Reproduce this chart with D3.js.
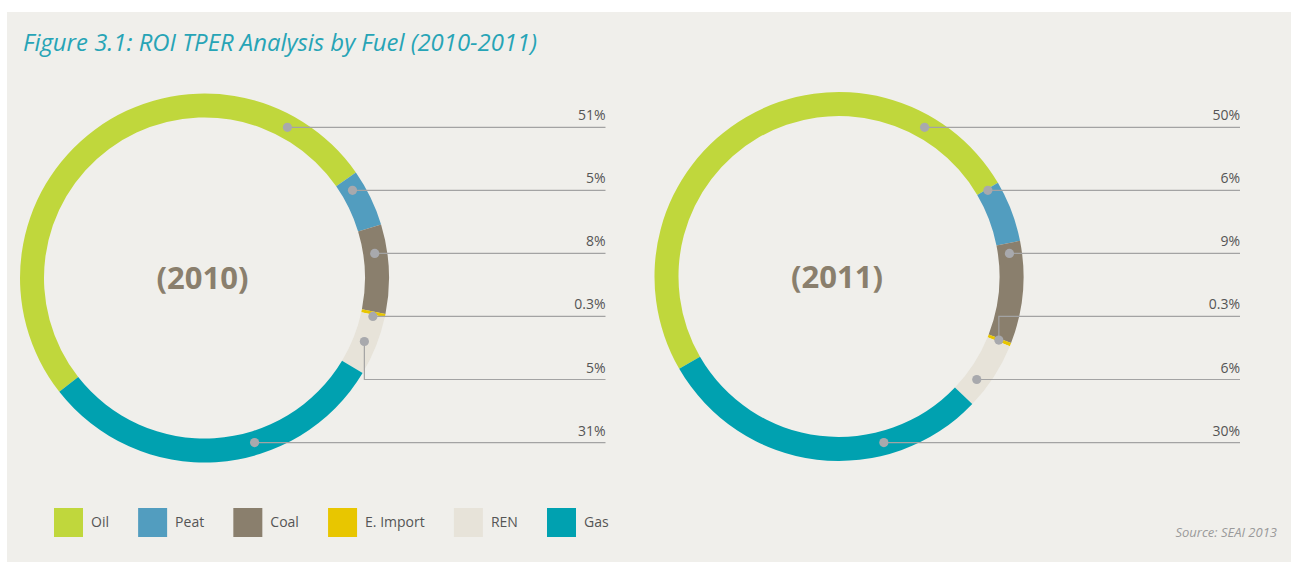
<!DOCTYPE html>
<html>
<head>
<meta charset="utf-8">
<script src="https://cdn.jsdelivr.net/npm/d3@7"></script>
<style>
  html, body { margin: 0; padding: 0; background: #ffffff; }
  svg { display: block; }
</style>
</head>
<body>
<svg id="chart" width="1291" height="562"></svg>
<script>
// ---------------- data ----------------
const title = "Figure 3.1: ROI TPER Analysis by Fuel (2010-2011)";
const source = "Source: SEAI 2013";
const fuels = ["Oil", "Peat", "Coal", "E. Import", "REN", "Gas"];
const fuelColors = ["#c0d73c", "#529dbf", "#8a7f6d", "#e8c600", "#e7e3d9", "#00a1b0"];
const years = ["2010", "2011"];
const share2010 = [50.9, 5.0, 7.8, 0.3, 5.2, 30.8];
const share2011 = [50.0, 5.4, 9.0, 0.3, 6.0, 29.6];
const labels2010 = ["51%", "5%", "8%", "0.3%", "5%", "31%"];
const labels2011 = ["50%", "6%", "9%", "0.3%", "6%", "30%"];

// ---------------- layout ----------------
const W = 1291, H = 562;
const charts = [
  { year: years[0], values: share2010, labels: labels2010, cx: 204.5, cy: 278, startDeg: -128.1 },
  { year: years[1], values: share2011, labels: labels2011, cx: 839, cy: 276.5, startDeg: -120 }
];
const innerR = 160.5, outerR = 184.5, dotR = 172;
const labelTop = 127.3, labelStep = 63.05, lineReach = 401;

const color = d3.scaleOrdinal().domain(fuels).range(fuelColors);

const svg = d3.select("#chart");
svg.append("rect").attr("x", 0).attr("y", 0).attr("width", W).attr("height", H).attr("fill", "#ffffff");
svg.append("rect").attr("x", 7).attr("y", 12).attr("width", W - 7).attr("height", H - 12).attr("fill", "#f0efeb");

// title
const t = svg.append("text")
  .attr("x", 23).attr("y", 51)
  .attr("font-family", "'Open Sans', sans-serif")
  .attr("font-style", "italic")
  .attr("font-size", 24)
  .attr("fill", "#27a4b6")
  .text(title);
t.attr("textLength", 514).attr("lengthAdjust", "spacingAndGlyphs");

charts.forEach(c => {
  const g = svg.append("g").attr("transform", `translate(${c.cx},${c.cy})`);
  const a0 = c.startDeg * Math.PI / 180;
  const pie = d3.pie().sort(null).value(d => d.v).startAngle(a0).endAngle(a0 + 2 * Math.PI);
  const arcs = pie(fuels.map((f, i) => ({ f, v: c.values[i], label: c.labels[i] })));
  const arc = d3.arc().innerRadius(innerR).outerRadius(outerR);

  g.selectAll("path.seg").data(arcs).join("path")
    .attr("class", "seg")
    .attr("d", arc)
    .attr("fill", d => color(d.data.f));

  const yScale = d3.scaleLinear().domain([0, fuels.length - 1])
    .range([labelTop - c.cy, labelTop + (fuels.length - 1) * labelStep - c.cy]);

  const leaders = arcs.map((a, i) => {
    const ly = yScale(i);
    let dx, dy, ok = false;
    const cosT = -ly / dotR;
    if (Math.abs(cosT) <= 1) {
      const th = Math.acos(cosT);
      const m = 0.005;
      if (th >= a.startAngle + m && th <= a.endAngle - m) {
        dx = dotR * Math.sin(th); dy = ly; ok = true;
      }
    }
    if (!ok) {
      const th = (a.startAngle + a.endAngle) / 2;
      dx = dotR * Math.sin(th); dy = -dotR * Math.cos(th);
      if (Math.abs(dy - ly) < 8) dy = ly;
    }
    return { dx, dy, ly, label: a.data.label };
  });

  g.selectAll("path.lead").data(leaders).join("path")
    .attr("class", "lead")
    .attr("d", d => `M${d.dx},${d.dy}V${d.ly}H${lineReach}`)
    .attr("fill", "none")
    .attr("stroke", "#a3a3a3")
    .attr("stroke-width", 1.2);

  g.selectAll("circle.dot").data(leaders).join("circle")
    .attr("class", "dot")
    .attr("cx", d => d.dx).attr("cy", d => d.dy).attr("r", 4.6)
    .attr("fill", "#a8a9ad");

  g.selectAll("text.pct").data(leaders).join("text")
    .attr("class", "pct")
    .attr("x", lineReach).attr("y", d => d.ly - 7)
    .attr("text-anchor", "end")
    .attr("font-family", "'Open Sans', sans-serif")
    .attr("font-size", 14)
    .attr("fill", "#555555")
    .text(d => d.label);

  g.append("text")
    .attr("x", -2).attr("y", 11)
    .attr("text-anchor", "middle")
    .attr("font-family", "'Open Sans', sans-serif")
    .attr("font-weight", 700)
    .attr("font-size", 31)
    .attr("fill", "#8a7f6d")
    .text(`(${c.year})`);
});

// legend
const legStart = 54, legEnd = 547, sw = 29, txtOff = 37, legTop = 508;
const leg = svg.append("g");
const items = leg.selectAll("g.item").data(fuels).join("g").attr("class", "item");
items.append("rect").attr("width", sw).attr("height", sw).attr("fill", d => color(d));
const lt = items.append("text")
  .attr("x", txtOff).attr("y", 19)
  .attr("font-family", "'Open Sans', sans-serif")
  .attr("font-size", 14)
  .attr("fill", "#555555")
  .text(d => d);
const widths = [];
lt.each(function () { widths.push(this.getComputedTextLength()); });
const sumW = d3.sum(widths.slice(0, -1));
const gap = (legEnd - legStart - (fuels.length - 1) * txtOff - sumW) / (fuels.length - 1);
let xPos = legStart;
items.each(function (d, i) {
  d3.select(this).attr("transform", `translate(${xPos},${legTop})`);
  xPos += txtOff + widths[i] + gap;
});

// source
svg.append("text")
  .attr("x", 1277).attr("y", 536.5)
  .attr("text-anchor", "end")
  .attr("font-family", "'Open Sans', sans-serif")
  .attr("font-style", "italic")
  .attr("font-size", 13)
  .attr("fill", "#9a9a9a")
  .text(source);
</script>
</body>
</html>
